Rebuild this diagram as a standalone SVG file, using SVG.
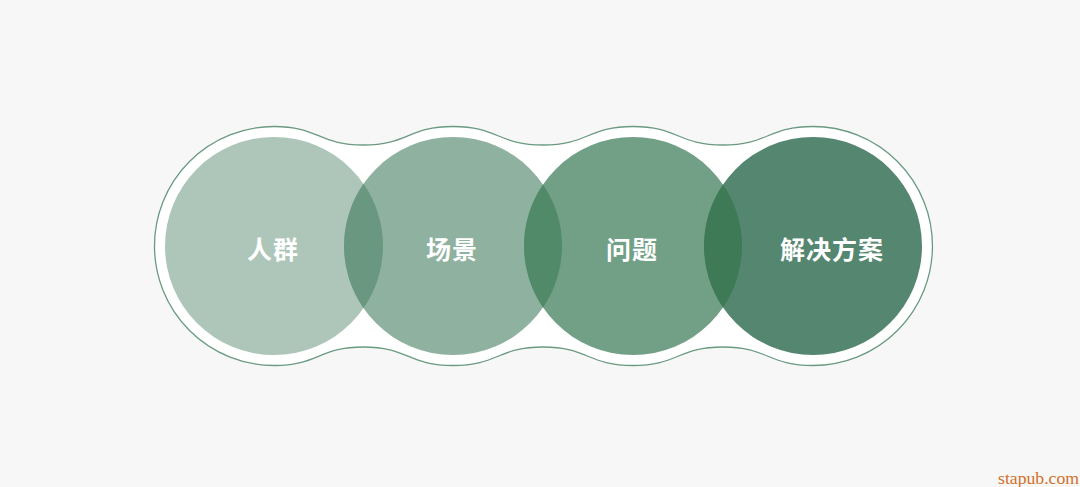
<svg xmlns="http://www.w3.org/2000/svg" width="1080" height="487" viewBox="0 0 1080 487">
<style>
.lbl{font-family:"Noto Sans CJK SC","Noto Sans",sans-serif;font-weight:700;font-size:25px;fill:#ffffff;text-anchor:middle;letter-spacing:1px}
.wm{font-family:"Liberation Serif",serif;font-size:17px;fill:#d2702b}
</style>
<rect width="1080" height="487" fill="#f7f7f7"/>
<g id="outline">
<path d="M154.5 246 A119.5 119.5 0 0 1 274 126.5 C318.5 126.5 318.5 145 363.5 145 C408 145 408 126.5 453 126.5 C498 126.5 498 145 543 145 C588 145 588 126.5 633 126.5 C678 126.5 678 145 723 145 C768 145 768 126.5 813 126.5 A119.5 119.5 0 0 1 813 365.5 C768 365.5 768 347 723 347 C678 347 678 365.5 633 365.5 C588 365.5 588 347 543 347 C498 347 498 365.5 453 365.5 C408 365.5 408 347 363.5 347 C318.5 347 318.5 365.5 274 365.5 A119.5 119.5 0 0 1 154.5 246 Z" fill="#ffffff" stroke="#6a9a82" stroke-width="1.3"/>
</g>
<g id="node-1"><circle cx="274" cy="246" r="109" fill="#adc6b9"/><text class="lbl" x="273" y="259">人群</text></g>
<g id="node-2"><circle cx="453" cy="246" r="109" fill="#8fb19f"/></g>
<g id="node-3"><circle cx="633" cy="246" r="109" fill="#72a086"/></g>
<g id="node-4"><circle cx="813" cy="246" r="109" fill="#558770"/></g>
<g id="overlaps">
<path d="M363.5 183.8 A109 109 0 0 1 363.5 308.2 A109 109 0 0 1 363.5 183.8 Z" fill="#6a977f"/>
<path d="M543 184.5 A109 109 0 0 1 543 307.5 A109 109 0 0 1 543 184.5 Z" fill="#508a69"/>
<path d="M723 184.5 A109 109 0 0 1 723 307.5 A109 109 0 0 1 723 184.5 Z" fill="#3f7a57"/>
</g>
<g id="labels">
<text class="lbl" x="452" y="259">场景</text>
<text class="lbl" x="632" y="259">问题</text>
<text class="lbl" x="832" y="259">解决方案</text>
</g>
<text class="wm" x="998" y="484" textLength="81" lengthAdjust="spacingAndGlyphs">stapub.com</text>
</svg>
